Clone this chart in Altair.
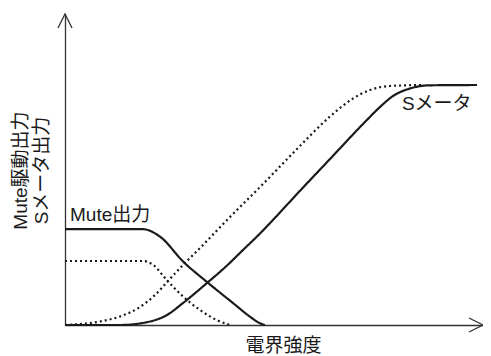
import altair as alt
import pandas as pd

# x: field strength (arbitrary units 0-100), y: output level (0-100)
mute_solid_x = [0, 18.66, 22.73, 28.30, 33.90, 40.26, 44.26, 46.65, 47.85]
mute_solid_y = [30.8, 30.8, 28.4, 20.35, 13.9, 6.98, 2.67, 0.55, 0]

mute_dot_x = [0, 18.66, 21.12, 24.33, 28.30, 32.30, 36.29, 39.47]
mute_dot_y = [20.58, 20.58, 19.29, 14.47, 9.10, 4.82, 1.61, 0]

smeter_solid_x = [0, 13.16, 20.33, 24.40, 28.23, 33.97, 38.76, 42.58, 46.65, 49.52,
                  55.50, 63.40, 71.29, 75.36, 78.47, 82.54, 87.32, 98.56]
smeter_solid_y = [0, 0, 1.13, 3.22, 7.07, 13.50, 19.13, 24.12, 29.42, 33.44,
                  42.12, 53.38, 64.63, 70.10, 73.63, 76.05, 77.07, 77.17]

smeter_dot_x = [0, 8.37, 13.16, 17.94, 21.53, 24.64, 28.23, 32.30, 39.47, 47.37,
                55.50, 63.40, 68.90, 72.97, 77.75, 85.65]
smeter_dot_y = [0, 1.13, 2.73, 5.79, 9.65, 14.15, 19.29, 24.76, 34.73, 45.34,
                56.59, 67.04, 72.83, 75.56, 76.85, 77.17]

label_text = ["Mute出力", "Sメータ"]
label_x = [1.2, 80.6]
label_y = [35.4, 71.0]

y_title = ["Mute駆動出力", "Sメータ出力"]
x_title = "電界強度"

FONT = "Liberation Sans, Arial, Noto Sans CJK JP"
INK = "#1a1a1a"

rows = []
for name, style, xs_, ys_ in [
    ("mute", "solid", mute_solid_x, mute_solid_y),
    ("mute_d", "dotted", mute_dot_x, mute_dot_y),
    ("smeter", "solid", smeter_solid_x, smeter_solid_y),
    ("smeter_d", "dotted", smeter_dot_x, smeter_dot_y),
]:
    for i, (x, y) in enumerate(zip(xs_, ys_)):
        rows.append({"series": name, "style": style, "x": x, "y": y, "o": i})
df = pd.DataFrame(rows)

labels = pd.DataFrame({"t": label_text, "x": label_x, "y": label_y})
arrows = pd.DataFrame({"x": [0, 100], "y": [100, 0],
                       "shape": ["M-1,2L0,0L1,2", "M-2,-1L0,0L-2,1"]})

xs = alt.Scale(domain=[0, 100], nice=False, zero=False)
ys = alt.Scale(domain=[0, 100], nice=False, zero=False)

x_axis = alt.Axis(domain=True, ticks=False, labels=False, grid=False,
                  domainColor="#333333", domainWidth=1.3,
                  title=x_title, titleFont=FONT, titleFontSize=19,
                  titleFontWeight="normal", titleColor=INK,
                  titleX=218, titleY=20, titleAlign="center", titleBaseline="middle")
y_axis = alt.Axis(domain=True, ticks=False, labels=False, grid=False,
                  domainColor="#333333", domainWidth=1.3,
                  title=y_title, titleFont=FONT, titleFontSize=19,
                  titleFontWeight="normal", titleColor=INK,
                  titleX=-54, titleY=156, titleAngle=-90,
                  titleAlign="center", titleBaseline="top", titleLineHeight=21)

lines = alt.Chart(df).mark_line(interpolate="monotone", strokeWidth=2.2, color=INK).encode(
    x=alt.X("x:Q", scale=xs, axis=x_axis),
    y=alt.Y("y:Q", scale=ys, axis=y_axis),
    detail="series:N",
    order="o:Q",
    strokeDash=alt.StrokeDash("style:N",
                              scale=alt.Scale(domain=["solid", "dotted"], range=[[1, 0], [2, 3]]),
                              legend=None),
)

text = alt.Chart(labels).mark_text(align="left", baseline="middle", font=FONT,
                                   fontSize=19, color=INK).encode(
    x=alt.X("x:Q", scale=xs), y=alt.Y("y:Q", scale=ys), text="t:N")

arrow_marks = alt.layer(*[
    alt.Chart(arrows.iloc[[i]]).mark_point(shape=arrows["shape"][i], size=196, filled=False,
                                           strokeWidth=1.3, color="#333333", opacity=1).encode(
        x=alt.X("x:Q", scale=xs), y=alt.Y("y:Q", scale=ys))
    for i in range(2)
])

chart = alt.layer(lines, text, arrow_marks).properties(
    width=418, height=311,
    autosize=alt.AutoSizeParams(type="none"),
    padding={"left": 57, "top": 6, "right": 0, "bottom": 30},
).configure_view(stroke=None)

chart.save("out.html", embed_options={"renderer": "svg", "actions": False})
